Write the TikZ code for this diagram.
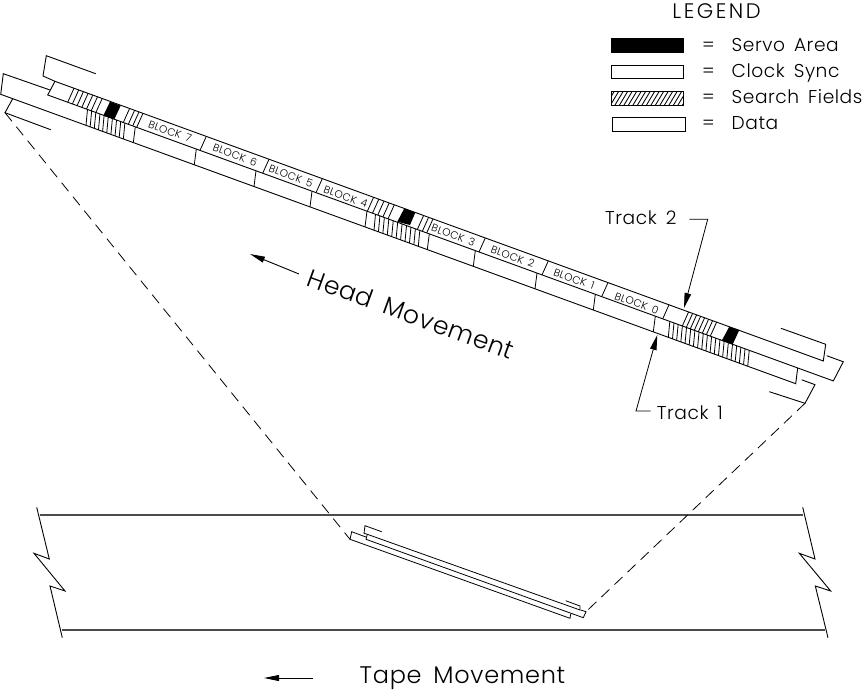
\documentclass[tikz,border=0pt]{standalone}
\usepackage{fontspec}
\newfontfamily\cad{Poppins Light}[LetterSpace=3,WordSpace=1.6]
\newfontfamily\cadwide{Poppins Light}[LetterSpace=12]
\usetikzlibrary{arrows.meta}
\tikzset{
  declare function={la(\x)=61.3+.364*\x; laa(\x)=54.8+.364*\x; lb(\x)=77.6+.364*\x; lc(\x)=94.05+.364*\x; lcc(\x)=88+.364*\x;},
  ln/.style={line width=0.9pt,black},
  tapeline/.style={line width=1.2pt,black!70},
  dashline/.style={line width=0.8pt,dash pattern=on 11pt off 7pt},
  blk/.style={font=\cad\fontsize{10.5}{10.5}\selectfont,rotate=-20,inner sep=0pt},
  lbl/.style={font=\cad\fontsize{18.6}{18.6}\selectfont,inner sep=0pt,anchor=base west},
  bigl/.style={font=\cad\fontsize{25}{25}\selectfont,inner sep=0pt},
  leader/.style={ln,line width=0.8pt,-{Triangle[length=15pt,width=6.5pt]}},
  mover/.style={ln,-{Triangle[length=15pt,width=6pt]}},
}
\begin{document}
\begin{tikzpicture}[x=1pt,y=-1pt]
\useasboundingbox (0,0) rectangle (865,691);
% ---- legend
\node[font=\cadwide\fontsize{21}{21}\selectfont,inner sep=0pt] (legendtitle) at (716.5,11) {LEGEND};
\fill[black,draw=black] (611,38.3) rectangle (683.3,51.7);
\draw[ln] (611.3,65) rectangle (683.3,78.3);
\begin{scope}
\clip (611.3,91.7) rectangle (683.3,105);
\foreach \x in {606,610.5,...,690} \draw[line width=0.85pt] (\x,105) -- (\x+8,91.7);
\end{scope}
\draw[ln] (611.3,91.7) rectangle (683.3,105);
\draw[ln] (612.7,117.7) rectangle (685,131);
\foreach \y/\t in {51/Servo Area,77/Clock Sync,103/Search Fields,129/Data}{
  \node[lbl] at (702,\y) {=};
  \node[lbl] at (731.5,\y) {\t};
}
% ---- long lines of the tracks
\draw[ln] (95.7,73.7) -- (46.3,55.7) -- (43,76) -- (55,{la(55)}) -- (823.3,{la(823.3)}) -- (825.7,344.3) -- (781,328.3);
\draw[ln] (826.7,{laa(826.7)}) -- (843.3,{laa(843.3)}) -- (833.3,{lb(833.3)}) -- (47.7,{lb(47.7)}) -- (55,{la(55)});
\draw[ln] (50,90) -- (3.3,73.7) -- (0.7,{lc(0.7)}) -- (795.7,{lc(795.7)}) -- (797.7,{lb(797.7)});
\draw[ln] (50.7,129.7) -- (5,112.7) -- (12.7,{lc(12.7)});
\draw[ln] (801.7,{lcc(801.7)}) -- (815,{lcc(815)}) -- (805,403.3) -- (769.3,391.7);
% ---- track 2 cross lines
\foreach \b in {67.7,72.4,...,97,123.3,128.3,132.7,136.7,200,262.7,316,367.3,372.5,377.7,382.9,388,417.3,422.3,426.7,479,542,601.7,662.7,682.3,686.3,690.3,694.3,698.3,702.3,706.3,710.3}
  \draw[line width=0.8pt] (\b,{lb(\b)}) -- (\b+6.3,{la(\b+6.3)});
% ---- track 1 cross lines
\foreach \b in {133.3,194.3,254,310,365,427.3,473.3,535,593.3,653.3}
  \draw[line width=0.8pt] (\b,{lc(\b)}) -- (\b+2,{lb(\b+2)});
\foreach \i in {0,...,9} \pgfmathsetmacro{\b}{86+\i*4.15}
  \draw[line width=0.8pt] (\b,{lc(\b)}) -- (\b+1.5,{lb(\b+1.5)});
\foreach \i in {0,...,10} \pgfmathsetmacro{\b}{374+\i*4.43}
  \draw[line width=0.8pt] (\b,{lc(\b)}) -- (\b+1.5,{lb(\b+1.5)});
\foreach \i in {0,...,19} \pgfmathsetmacro{\b}{668.3+\i*4.18}
  \draw[line width=0.8pt] (\b,{lc(\b)}) -- (\b+1.5,{lb(\b+1.5)});
% ---- servo areas
\fill (110,101.7) -- (120.7,105.7) -- (114.3,119.3) -- (103.3,115.7) -- cycle;
\fill (404.3,208.3) -- (415.3,212.7) -- (410,225) -- (397.3,221.7) -- cycle;
\fill (729.3,326.7) -- (739.3,330) -- (732.7,344.3) -- (721.7,340.7) -- cycle;
% ---- block labels
\node[blk] (b7) at (170,131.5) {BLOCK 7};
\node[blk] (b6) at (235,155) {BLOCK 6};
\node[blk] (b5) at (291,176) {BLOCK 5};
\node[blk] (b4) at (345.7,196.7) {BLOCK 4};
\node[blk] (b3) at (453.3,235) {BLOCK 3};
\node[blk] (b2) at (512.7,256.7) {BLOCK 2};
\node[blk] (b1) at (574,279) {BLOCK 1};
\node[blk] (b0) at (636.7,303.3) {BLOCK 0};
% ---- track labels and leaders
\node[lbl] (t2) at (605,224) {Track 2};
\node[lbl] (t1) at (656.7,419) {Track 1};
\coordinate (t2b) at (707.7,219.3);
\coordinate (t2e) at (684,308);
\coordinate (t1b) at (636,411);
\coordinate (t1e) at (657.3,335);
\draw[leader] (689.3,219.3) -- (t2b) -- (t2e);
\draw[leader] (650.7,411) -- (t1b) -- (t1e);
% ---- movement labels
\node[bigl,rotate=-20] (head) at (411,314) {Head Movement};
\coordinate (ha) at (299,274);
\coordinate (hb) at (250,254);
\draw[mover] (ha) -- (hb);
\node[bigl,font=\cad\fontsize{24}{24}\selectfont] (tape) at (462.5,678) {Tape Movement};
\coordinate (ta) at (313,678);
\coordinate (tb) at (264,678);
\draw[mover] (ta) -- (tb);
% ---- tape
\draw[tapeline] (40,515) -- (803.3,515);
\draw[tapeline] (61.7,630) -- (825,630);
\draw[ln] (36.7,507.3) -- (49.3,559) -- (34,553.3) -- (65,591) -- (50,586) -- (62.3,637.7);
\draw[ln] (802.7,507.3) -- (815,559) -- (799.3,553.3) -- (830.7,591) -- (815.3,586) -- (828,637.7);
% ---- small track on tape
\draw[line width=0.8pt] (381.7,531.7) -- (365,525.7) -- (364,533.3) -- (367.3,534.3) -- (580,610) -- (580,606) -- (565.7,600.7);
\draw[line width=0.8pt] (366.7,537.3) -- (351.7,531.7) -- (350,539.3) -- (570,618.3) -- (570.7,614);
\draw[line width=0.8pt] (367.3,534.3) -- (366,539.3) -- (583.3,617.7) -- (586,611.7) -- (580.7,610);
% ---- dashed projection lines
\coordinate (dl1) at (5,112.7);
\coordinate (dl2) at (350,539.3);
\coordinate (dr1) at (805,403.3);
\coordinate (dr2) at (586,611.7);
\draw[dashline] (dl1) -- (dl2);
\draw[dashline] (dr1) -- (dr2);
\end{tikzpicture}
\end{document}
